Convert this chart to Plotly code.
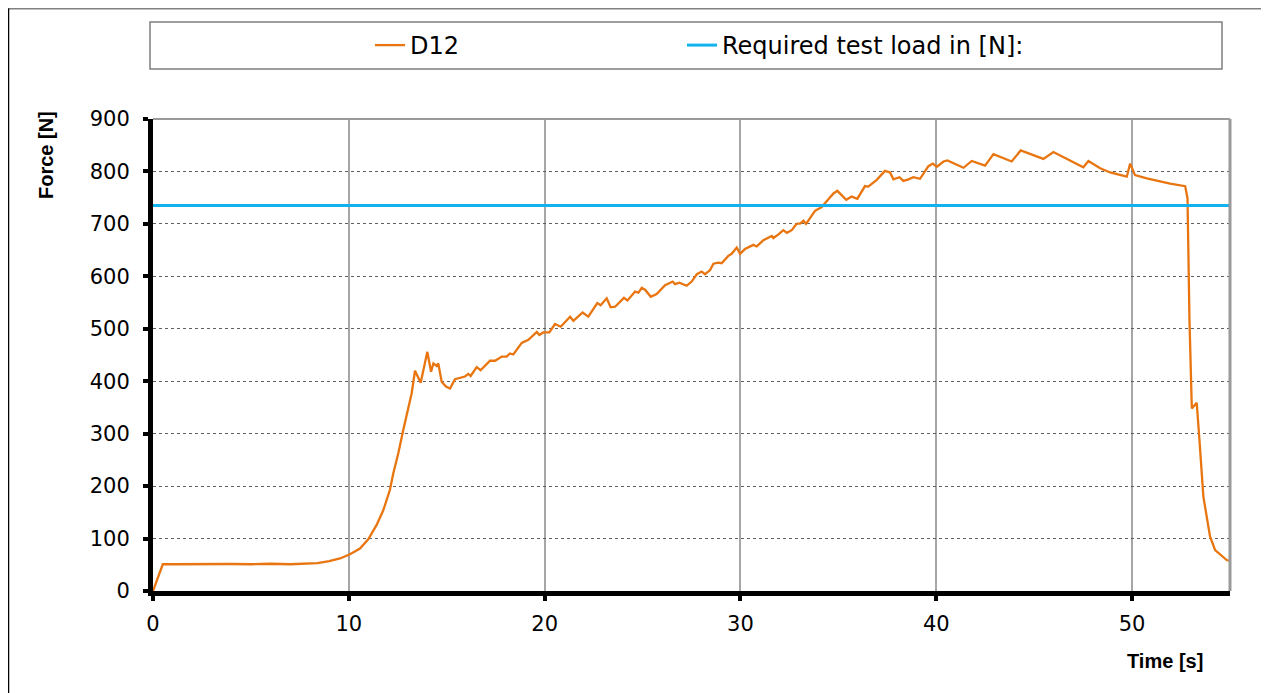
import plotly.graph_objects as go

time_s = [0, 0.5, 1, 2, 3, 4, 5, 6, 7, 8,
          8.4, 9, 9.55, 10.06, 10.57, 11.0, 11.42, 11.76, 12.1, 12.27,
          12.53, 12.78, 13.04, 13.21, 13.38, 13.67, 14.01, 14.2, 14.32, 14.49,
          14.57, 14.74, 14.96, 15.17, 15.42, 15.68, 15.93, 16.1, 16.22, 16.53,
          16.73, 17.21, 17.47, 17.81, 18.06, 18.23, 18.4, 18.83, 19.17, 19.6,
          19.73, 19.93, 20.24, 20.53, 20.82, 21.3, 21.47, 21.94, 22.23, 22.69,
          22.86, 23.17, 23.37, 23.6, 24.05, 24.23, 24.62, 24.79, 24.96, 25.14,
          25.42, 25.72, 26.15, 26.54, 26.66, 26.88, 27.25, 27.51, 27.77, 28.02,
          28.19, 28.45, 28.62, 28.87, 29.04, 29.38, 29.55, 29.81, 29.98, 30.23,
          30.49, 30.66, 30.83, 31.17, 31.6, 31.68, 31.94, 32.19, 32.37, 32.62,
          32.87, 33.07, 33.22, 33.35, 33.81, 33.98, 34.15, 34.49, 34.75, 34.95,
          35.4, 35.68, 35.97, 36.36, 36.53, 36.96, 37.38, 37.64, 37.81, 38.12,
          38.32, 38.58, 38.83, 39.17, 39.6, 39.82, 40.03, 40.37, 40.57, 41.39,
          41.81, 42.49, 42.92, 43.85, 44.31, 45.47, 45.73, 45.98, 47.51, 47.77,
          48.37, 48.88, 49.73, 49.9, 50.15, 50.75, 51.94, 52.71, 52.83, 52.93,
          53.05, 53.3, 53.44, 53.64, 53.98, 54.24, 54.83, 55.17]

force_d12 = [0, 51, 51, 51.5, 51, 51.5, 51, 52, 51, 52,
             53, 57, 62, 70, 81, 99, 126, 154, 193, 224,
             263, 307, 348, 377, 420, 397, 456, 418, 434, 429,
             434, 399, 390, 386, 404, 407, 409, 414, 410, 427,
             421, 439, 439, 447, 447, 453, 451, 473, 479, 494,
             488, 493, 493, 509, 504, 523, 515, 531, 523, 549,
             545, 558, 541, 542, 559, 554, 571, 569, 578, 574,
             561, 566, 583, 590, 585, 588, 582, 590, 604, 609,
             604, 612, 624, 626, 625, 639, 643, 655, 643, 652,
             657, 660, 657, 669, 677, 673, 680, 688, 683, 688,
             700, 701, 706, 700, 725, 728, 732, 747, 758, 763,
             746, 752, 748, 772, 771, 784, 801, 798, 785, 789,
             782, 785, 789, 786, 810, 815, 809, 819, 821, 807,
             820, 811, 833, 819, 840, 824, 831, 837, 808, 820,
             806, 798, 790, 815, 793, 787, 777, 772, 749, 517,
             348, 359, 288, 180, 104, 78, 59, 56]

required_time = [0, 55.3]
required_load = [735, 735]

x_ticks = [0, 10, 20, 30, 40, 50]
y_ticks = [0, 100, 200, 300, 400, 500, 600, 700, 800, 900]

fig = go.Figure()
fig.add_trace(go.Scatter(x=time_s, y=force_d12, mode="lines", name="D12",
                         line=dict(color="#E8750F", width=2.3), legend="legend"))
fig.add_trace(go.Scatter(x=required_time, y=required_load, mode="lines",
                         name="Required test load in [N]:",
                         line=dict(color="#12B2EE", width=3), legend="legend2"))

tick_font = dict(family="DejaVu Sans, Verdana, sans-serif", size=21, color="#000000")

fig.update_xaxes(range=[0, 55], tickvals=x_ticks, showgrid=True, gridcolor="#A6A6A6",
                 gridwidth=1.5, showline=True, linecolor="#000000", linewidth=5,
                 ticks="outside", ticklen=5, tickwidth=4, tickcolor="#000000",
                 tickfont=tick_font, zeroline=False, ticklabelstandoff=5)
fig.update_yaxes(range=[0, 900], tickvals=y_ticks, showgrid=True, gridcolor="#606060",
                 gridwidth=1, griddash="dot", showline=True, linecolor="#000000",
                 linewidth=5, ticks="outside", ticklen=5, tickwidth=4,
                 tickcolor="#000000", tickfont=tick_font, zeroline=False,
                 ticklabelstandoff=9)

# page offset of the figure (browser body margin)
OFF = 8
FW, FH = 1269 - OFF, 693 - OFF
# plot area in page pixels
L, R, T, B = 153, 1230, 119, 591
W = R - L
H = B - T


def px(xp):
    return (xp - L) / W


def py(yp):
    return (B - yp) / H


shapes = [
    # plot area top and right borders
    dict(type="line", xref="paper", yref="paper", x0=0, x1=1, y0=1, y1=1,
         line=dict(color="#9A9A9A", width=2)),
    dict(type="line", xref="paper", yref="paper", x0=1, x1=1, y0=0, y1=1,
         line=dict(color="#9A9A9A", width=3)),
    # outer frame (top gray, left black)
    dict(type="line", xref="paper", yref="paper", x0=px(8), x1=px(1269), y0=py(8.5), y1=py(8.5),
         line=dict(color="#808080", width=2)),
    dict(type="line", xref="paper", yref="paper", x0=px(8.5), x1=px(8.5), y0=py(8.5), y1=py(693),
         line=dict(color="#000000", width=1.5)),
    # legend box
    dict(type="rect", xref="paper", yref="paper", x0=px(150), x1=px(1222), y0=py(69), y1=py(22),
         line=dict(color="#7F7F7F", width=1.5), fillcolor="rgba(0,0,0,0)"),
]

annotations = [
    dict(text="<b>Force [N]</b>", xref="paper", yref="paper", x=px(46), y=py(155),
         xanchor="center", yanchor="middle", textangle=-90, showarrow=False,
         font=dict(family="Liberation Sans, Arial, sans-serif", size=20, color="#000000")),
    dict(text="<b>Time [s]</b>", xref="paper", yref="paper", x=px(1165), y=py(661),
         xanchor="center", yanchor="middle", showarrow=False,
         font=dict(family="Liberation Sans, Arial, sans-serif", size=20, color="#000000")),
]

legend_font = dict(family="DejaVu Sans, Verdana, sans-serif", size=24, color="#000000")

fig.update_layout(
    width=FW, height=FH,
    margin=dict(l=L - OFF, r=FW - (R - OFF), t=T - OFF, b=FH - (B - OFF)),
    paper_bgcolor="#FFFFFF", plot_bgcolor="#FFFFFF",
    showlegend=True,
    legend=dict(orientation="h", x=px(370), y=py(45.5), xanchor="left", yanchor="middle",
                bgcolor="rgba(0,0,0,0)", borderwidth=0, font=legend_font, itemwidth=30),
    legend2=dict(orientation="h", x=px(682), y=py(45.5), xanchor="left", yanchor="middle",
                 bgcolor="rgba(0,0,0,0)", borderwidth=0, font=legend_font, itemwidth=30),
    shapes=shapes,
    annotations=annotations,
)

fig.write_html("out.html")
